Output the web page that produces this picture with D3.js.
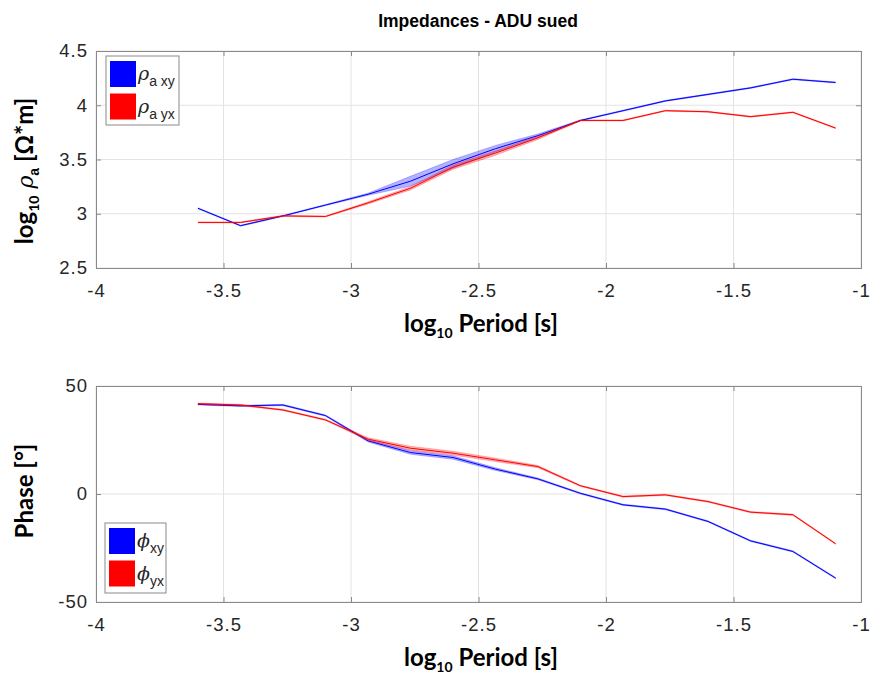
<!DOCTYPE html>
<html>
<head>
<meta charset="utf-8">
<script src="https://cdn.jsdelivr.net/npm/d3@7"></script>
<style>
  body { margin: 0; background: white; }
  svg text { font-family: Helvetica, Arial, "Liberation Sans", sans-serif; }
</style>
</head>
<body>
<div id="chart"></div>
<script>
// log10 period of each sounding
var periods = [-3.6, -3.433, -3.267, -3.1, -2.933, -2.767, -2.6, -2.433, -2.267, -2.1, -1.933, -1.767, -1.6, -1.433, -1.267, -1.1];

// apparent resistivity (log10) and half-width of error band
var rhoXY = [3.05, 2.89, 2.98, 3.08, 3.18, 3.30, 3.46, 3.60, 3.72, 3.86, 3.95, 4.04, 4.10, 4.16, 4.24, 4.21];
var rhoXYerr = [0.005, 0.005, 0.005, 0.005, 0.01, 0.045, 0.04, 0.03, 0.015, 0.005, 0.005, 0.005, 0.005, 0.005, 0.005, 0.005];
var rhoYX = [2.92, 2.92, 2.98, 2.975, 3.10, 3.235, 3.43, 3.56, 3.70, 3.86, 3.86, 3.95, 3.94, 3.895, 3.935, 3.79];
var rhoYXerr = [0.005, 0.005, 0.005, 0.005, 0.01, 0.015, 0.02, 0.02, 0.015, 0.005, 0.005, 0.005, 0.005, 0.005, 0.005, 0.005];

// phases in degrees
var phiXY = [41.5, 40.8, 41.2, 36.3, 24.6, 19.2, 16.9, 11.5, 7.0, 0.3, -5.0, -7.0, -12.7, -21.7, -26.6, -38.9];
var phiXYerr = [0.3, 0.3, 0.3, 0.3, 0.5, 0.8, 0.8, 0.6, 0.4, 0.3, 0.3, 0.3, 0.3, 0.3, 0.3, 0.3];
var phiYX = [41.8, 41.2, 38.9, 34.3, 25.4, 21.2, 18.9, 15.8, 12.7, 3.8, -1.2, -0.4, -3.5, -8.4, -9.6, -23.0];
var phiYXerr = [0.3, 0.3, 0.3, 0.3, 0.6, 0.9, 0.9, 0.8, 0.5, 0.3, 0.3, 0.3, 0.3, 0.3, 0.3, 0.3];

var xTicks = [-4, -3.5, -3, -2.5, -2, -1.5, -1];
var rhoTicks = [2.5, 3, 3.5, 4, 4.5];
var phiTicks = [-50, 0, 50];

var w = 870, h = 678;
var left = 96, right = 861;
var axisCol = "#262626";
var labelFont = "Lato, 'Open Sans', sans-serif";
var fmt = function(d){ return String(d); };

var svg = d3.select("#chart")
    .append("svg")
    .attr("width", w)
    .attr("height", h);

svg.append("text")
    .attr("x", 478)
    .attr("y", 27)
    .attr("text-anchor", "middle")
    .style("font-size", "17.5px")
    .style("font-weight", "bold")
    .style("fill", "#000")
    .text("Impedances - ADU sued");

var xScale = d3.scaleLinear().domain([-4, -1]).range([left, right]);

function makePanel(top, bottom, yDomain, yTicks, series, legendPos, legendLabels) {
    var yScale = d3.scaleLinear().domain(yDomain).range([bottom, top]);
    var g = svg.append("g");

    // grid
    g.selectAll(".vgrid").data(xTicks).enter()
        .append("line")
        .attr("x1", function(d){ return xScale(d); })
        .attr("x2", function(d){ return xScale(d); })
        .attr("y1", top).attr("y2", bottom)
        .style("stroke", "#e3e3e3").style("stroke-width", 1);
    g.selectAll(".hgrid").data(yTicks).enter()
        .append("line")
        .attr("x1", left).attr("x2", right)
        .attr("y1", function(d){ return yScale(d); })
        .attr("y2", function(d){ return yScale(d); })
        .style("stroke", "#e3e3e3").style("stroke-width", 1);

    // bands + lines
    series.forEach(function(s) {
        var pts = periods.map(function(p, i){ return {x: p, y: s.vals[i], e: s.err[i]}; });
        var area = d3.area()
            .x(function(d){ return xScale(d.x); })
            .y0(function(d){ return yScale(d.y - d.e); })
            .y1(function(d){ return yScale(d.y + d.e); });
        g.append("path")
            .attr("d", area(pts))
            .style("fill", s.color)
            .style("fill-opacity", 0.3)
            .style("stroke", s.color)
            .style("stroke-opacity", 0.4)
            .style("stroke-width", 0.6);
        var line = d3.line()
            .x(function(d){ return xScale(d.x); })
            .y(function(d){ return yScale(d.y); });
        g.append("path")
            .attr("d", line(pts))
            .style("fill", "none")
            .style("stroke", s.color)
            .style("stroke-width", 1);
    });

    // axes with inward ticks
    var xAxisB = d3.axisBottom(xScale).tickValues(xTicks).tickSize(-5).tickPadding(16).tickFormat(fmt);
    var xAxisT = d3.axisTop(xScale).tickValues(xTicks).tickSize(-5).tickFormat("");
    var yAxisL = d3.axisLeft(yScale).tickValues(yTicks).tickSize(-5).tickPadding(8).tickFormat(fmt);
    var yAxisR = d3.axisRight(yScale).tickValues(yTicks).tickSize(-5).tickFormat("");

    var axes = [
        g.append("g").attr("transform", "translate(0," + bottom + ")").call(xAxisB),
        g.append("g").attr("transform", "translate(0," + top + ")").call(xAxisT),
        g.append("g").attr("transform", "translate(" + left + ",0)").call(yAxisL),
        g.append("g").attr("transform", "translate(" + right + ",0)").call(yAxisR)
    ];
    axes.forEach(function(a) {
        a.selectAll("path").style("stroke", "#8a8a8a");
        a.selectAll("line").style("stroke", "#8a8a8a");
        a.selectAll("text").style("font-size", "18.5px").style("letter-spacing", "1px")
            .style("fill", axisCol).style("font-family", "Helvetica, Arial, 'Liberation Sans', sans-serif");
    });

    // x label
    var xl = g.append("text")
        .attr("x", 481)
        .attr("y", bottom + 64)
        .attr("text-anchor", "middle")
        .style("font-family", labelFont)
        .style("font-size", "24px")
        .style("font-weight", "bold")
        .style("fill", "#000");
    xl.append("tspan").text("log");
    xl.append("tspan").attr("dy", 6).style("font-size", "14px").text("10");
    xl.append("tspan").attr("dy", -6).text(" Period [s]");

    // legend
    var lg = g.append("g").attr("transform", "translate(" + legendPos[0] + "," + legendPos[1] + ")");
    lg.append("rect")
        .attr("width", legendPos[2]).attr("height", legendPos[3])
        .style("fill", "white").style("stroke", "#8a8a8a").style("stroke-width", 1);
    series.forEach(function(s, i) {
        var yy = 5 + i * 32.5;
        lg.append("rect")
            .attr("x", 4).attr("y", yy)
            .attr("width", 26).attr("height", 26)
            .style("fill", s.color);
        var t = lg.append("text")
            .attr("x", 32).attr("y", yy + 19)
            .style("fill", axisCol);
        t.append("tspan").style("font-size", "19px").style("font-style", "italic")
            .style("font-family", "'DejaVu Serif', serif").text(legendLabels.sym);
        t.append("tspan").attr("dy", 6).style("font-size", "14px").text(legendLabels.sub[i]);
    });

    return g;
}

makePanel(51, 268, [2.5, 4.5], rhoTicks, [
    {vals: rhoXY, err: rhoXYerr, color: "#0000ff"},
    {vals: rhoYX, err: rhoYXerr, color: "#ff0000"}
], [106, 56, 73, 69], {sym: "\u03c1", sub: ["a xy", "a yx"]});

makePanel(386, 602, [-50, 50], phiTicks, [
    {vals: phiXY, err: phiXYerr, color: "#0000ff"},
    {vals: phiYX, err: phiYXerr, color: "#ff0000"}
], [105, 523, 61, 70], {sym: "\u03d5", sub: ["xy", "yx"]});

// y labels
var yl1 = svg.append("text")
    .attr("transform", "translate(33,171) rotate(-90)")
    .attr("text-anchor", "middle")
    .style("font-family", labelFont)
    .style("font-size", "24px")
    .style("font-weight", "bold")
    .style("fill", "#000");
yl1.append("tspan").text("log");
yl1.append("tspan").attr("dy", 6).style("font-size", "14px").text("10");
yl1.append("tspan").attr("dy", -6).style("font-style", "italic").style("font-weight", "normal")
    .style("font-family", "'DejaVu Serif', serif").style("font-size", "22px").text(" \u03c1");
yl1.append("tspan").attr("dy", 6).style("font-size", "14px").style("font-family", "Arial, 'Liberation Sans', sans-serif").text("a");
yl1.append("tspan").attr("dy", -6).text(" [\u03a9*m]");

svg.append("text")
    .attr("transform", "translate(33,491) rotate(-90)")
    .attr("text-anchor", "middle")
    .style("font-family", labelFont)
    .style("font-size", "24px")
    .style("font-weight", "bold")
    .style("fill", "#000")
    .text("Phase [\u00b0]");
</script>
</body>
</html>
